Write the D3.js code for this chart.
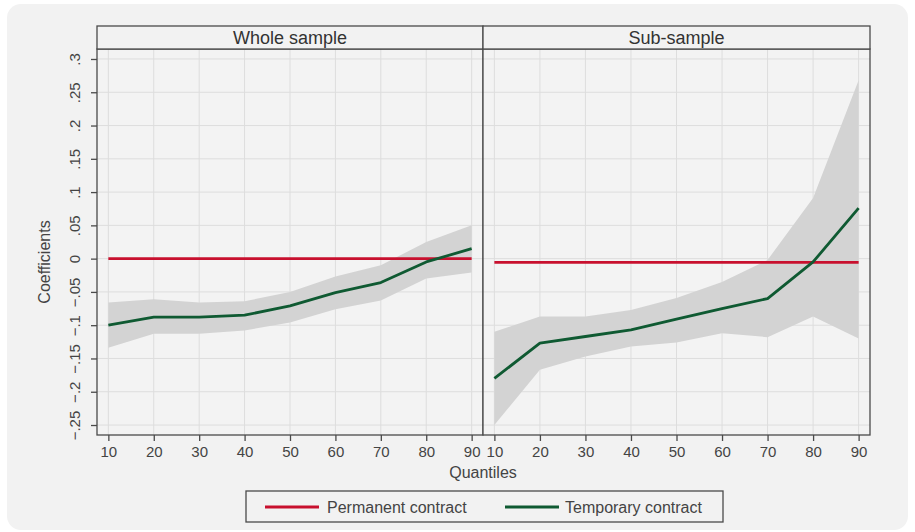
<!DOCTYPE html>
<html>
<head>
<meta charset="utf-8">
<script src="https://cdn.jsdelivr.net/npm/d3@7"></script>
<style>
  html, body { margin: 0; padding: 0; background: #ffffff; }
  svg { display: block; font-family: "Liberation Sans", Arial, sans-serif; }
</style>
</head>
<body>
<svg id="chart" width="915" height="532"></svg>
<script>
// ---------- data ----------
const quantiles = [10, 20, 30, 40, 50, 60, 70, 80, 90];
const panelTitles = ["Whole sample", "Sub-sample"];
const seriesNames = ["Permanent contract", "Temporary contract"];

const wholePermanent = [0, 0, 0, 0, 0, 0, 0, 0, 0];
const wholeTemporary = [-0.100, -0.088, -0.088, -0.085, -0.071, -0.051, -0.036, -0.005, 0.015];
const wholeUpper     = [-0.066, -0.061, -0.066, -0.064, -0.050, -0.027, -0.010, 0.025, 0.050];
const wholeLower     = [-0.134, -0.113, -0.113, -0.108, -0.096, -0.076, -0.063, -0.030, -0.021];

const subPermanent = [-0.0055, -0.0055, -0.0055, -0.0055, -0.0055, -0.0055, -0.0055, -0.0055, -0.0055];
const subTemporary = [-0.180, -0.127, -0.117, -0.107, -0.091, -0.075, -0.060, -0.005, 0.076];
const subUpper     = [-0.110, -0.087, -0.087, -0.077, -0.059, -0.035, -0.002, 0.091, 0.268];
const subLower     = [-0.250, -0.167, -0.147, -0.132, -0.126, -0.112, -0.118, -0.087, -0.120];

const yTickValues = [0.3, 0.25, 0.2, 0.15, 0.1, 0.05, 0, -0.05, -0.1, -0.15, -0.2, -0.25];
const yTickLabels = [".3", ".25", ".2", ".15", ".1", ".05", "0", "\u2212.05", "\u2212.1", "\u2212.15", "\u2212.2", "\u2212.25"];

// ---------- styling ----------
const C = {
  card: "#f2f2f2",
  plotBg: "#f3f3f3",
  grid: "#dddddd",
  band: "#d3d3d3",
  red: "#c8102e",
  green: "#0f5a32",
  frame: "#4a4a4a",
  text: "#444444"
};

const svg = d3.select("#chart");

// card background
svg.append("rect").attr("x", 7).attr("y", 4).attr("width", 901).attr("height", 526)
  .attr("rx", 14).attr("fill", C.card);

const plotTop = 49, plotBottom = 435, headerTop = 26;
const panels = [
  { x0: 97, x1: 483, title: panelTitles[0], perm: wholePermanent, temp: wholeTemporary, up: wholeUpper, lo: wholeLower },
  { x0: 483, x1: 870, title: panelTitles[1], perm: subPermanent, temp: subTemporary, up: subUpper, lo: subLower }
];

const y = d3.scaleLinear().domain([-0.265, 0.315]).range([plotBottom, plotTop]);

panels.forEach((p, i) => {
  const x = d3.scaleLinear().domain([7.5, 92.5]).range([p.x0, p.x1]);
  const g = svg.append("g");

  // plot background
  g.append("rect").attr("x", p.x0).attr("y", plotTop).attr("width", p.x1 - p.x0)
    .attr("height", plotBottom - plotTop).attr("fill", C.plotBg);

  // grid
  g.append("g").selectAll("line.v").data(quantiles).join("line")
    .attr("x1", d => x(d)).attr("x2", d => x(d))
    .attr("y1", plotTop).attr("y2", plotBottom)
    .attr("stroke", C.grid).attr("stroke-width", 1);
  g.append("g").selectAll("line.h").data(yTickValues).join("line")
    .attr("x1", p.x0).attr("x2", p.x1)
    .attr("y1", d => y(d)).attr("y2", d => y(d))
    .attr("stroke", C.grid).attr("stroke-width", 1);

  // confidence band
  const bandData = quantiles.map((q, k) => ({ q, lo: p.lo[k], up: p.up[k] }));
  g.append("path").datum(bandData)
    .attr("d", d3.area().x(d => x(d.q)).y0(d => y(d.lo)).y1(d => y(d.up)))
    .attr("fill", C.band);

  const line = d3.line().x(d => x(d.q)).y(d => y(d.v));
  g.append("path").datum(quantiles.map((q, k) => ({ q, v: p.perm[k] })))
    .attr("d", line).attr("fill", "none").attr("stroke", C.red).attr("stroke-width", 2.8);
  g.append("path").datum(quantiles.map((q, k) => ({ q, v: p.temp[k] })))
    .attr("d", line).attr("fill", "none").attr("stroke", C.green).attr("stroke-width", 2.8)
    .attr("stroke-linejoin", "round");

  // frame
  g.append("rect").attr("x", p.x0).attr("y", plotTop).attr("width", p.x1 - p.x0)
    .attr("height", plotBottom - plotTop).attr("fill", "none")
    .attr("stroke", C.frame).attr("stroke-width", 1.3);

  // header
  g.append("rect").attr("x", p.x0).attr("y", headerTop).attr("width", p.x1 - p.x0)
    .attr("height", plotTop - headerTop).attr("fill", C.card)
    .attr("stroke", C.frame).attr("stroke-width", 1.3);
  g.append("text").attr("x", (p.x0 + p.x1) / 2).attr("y", 43.5)
    .attr("text-anchor", "middle").attr("font-size", 18).attr("fill", "#333")
    .text(p.title);

  // x axis
  const xa = g.append("g").attr("transform", `translate(0,${plotBottom})`)
    .call(d3.axisBottom(x).tickValues(quantiles).tickSize(6).tickPadding(5).tickFormat(d3.format("d")));
  xa.select(".domain").remove();
  xa.selectAll(".tick line").attr("stroke", C.frame).attr("stroke-width", 1.3);
  xa.selectAll(".tick text").attr("font-size", 15).attr("fill", C.text)
    .attr("font-family", "Liberation Sans, Arial, sans-serif");

  // y axis (left panel only)
  if (i === 0) {
    const ya = g.append("g").attr("transform", `translate(${p.x0},0)`)
      .call(d3.axisLeft(y).tickValues(yTickValues).tickSize(6)
        .tickFormat((d, k) => yTickLabels[k]));
    ya.select(".domain").remove();
    ya.selectAll(".tick line").attr("stroke", C.frame).attr("stroke-width", 1.3);
    ya.selectAll(".tick text")
      .attr("font-size", 15).attr("fill", C.text)
      .attr("font-family", "Liberation Sans, Arial, sans-serif")
      .attr("x", null).attr("dy", null)
      .attr("text-anchor", "middle")
      .attr("transform", "translate(-17,0) rotate(-90)");
  }
});

// axis titles
svg.append("text").attr("x", 483).attr("y", 478).attr("text-anchor", "middle")
  .attr("font-size", 16).attr("fill", C.text).text("Quantiles");
svg.append("text").attr("transform", "translate(50,262) rotate(-90)").attr("text-anchor", "middle")
  .attr("font-size", 16).attr("fill", C.text).text("Coefficients");

// legend
const lg = svg.append("g");
lg.append("rect").attr("x", 246).attr("y", 491).attr("width", 477).attr("height", 31)
  .attr("fill", C.card).attr("stroke", C.frame).attr("stroke-width", 1.3);
const legendItems = [
  { name: seriesNames[0], color: C.red, lx: 265, tx: 327 },
  { name: seriesNames[1], color: C.green, lx: 505, tx: 565 }
];
legendItems.forEach(it => {
  lg.append("line").attr("x1", it.lx).attr("x2", it.lx + 54).attr("y1", 507).attr("y2", 507)
    .attr("stroke", it.color).attr("stroke-width", 2.8);
  lg.append("text").attr("x", it.tx).attr("y", 512.5).attr("font-size", 16)
    .attr("fill", C.text).text(it.name);
});
</script>
</body>
</html>
